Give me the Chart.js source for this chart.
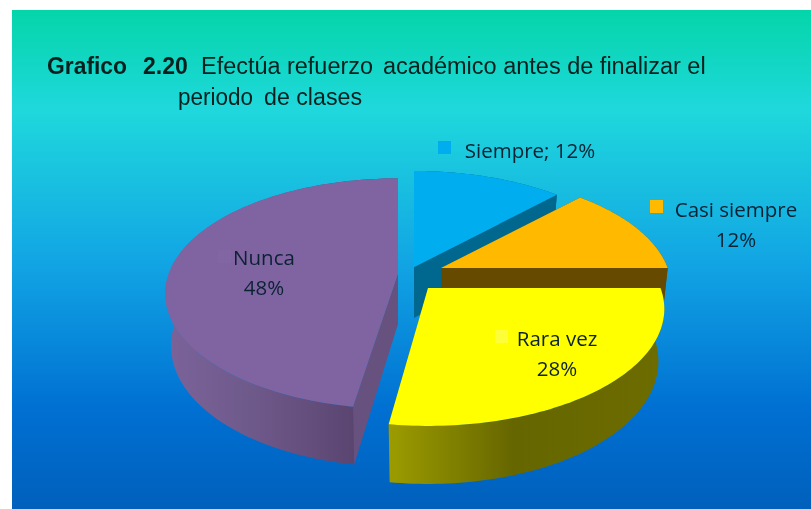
<!DOCTYPE html>
<html><head><meta charset="utf-8">
<style>html,body{margin:0;padding:0;background:#fff}#w{width:811px;height:509px}canvas{filter:blur(0.5px)}</style>
<script src="https://cdn.jsdelivr.net/npm/chart.js@4"></script>
</head><body><div id="w"><canvas id="c" width="811" height="509"></canvas></div>
<script>
const categories = ["Siempre", "Casi siempre", "Rara vez", "Nunca"];
const percentValues = [12, 12, 28, 48];
const sliceColors = ["#00aeef", "#ffba00", "#ffff00", "#8064a2"];
const cutColors = ["#00688f", "#664a00", "#666600", "#67527f"];
const wallStops = [
  [[0, "#00688f"], [1, "#00688f"]],
  [[0, "#664a00"], [1, "#664a00"]],
  [[0, "#9c9c00"], [0.45, "#666600"], [1, "#6c6c00"]],
  [[0, "#7b6399"], [0.35, "#6f5a8c"], [1, "#523d66"]]
];
// Per-slice explosion relative to the pie centre, radius factor, and edge nudges (degrees)
const explodeX = [8.5, 35.5, 22.5, -7.5];
const explodeY = [12.5, 13.5, 33.5, 18.5];
const radiusFactor = [1, 0.975, 1, 0.985];
const startNudge = [0, 0.7, 3.6, 2.1];
const endNudge = [0.7, 3.6, 0.8, 0];
const drawOrder = [0, 1, 3, 2];
const labelPos = [[530,158],[736,217],[557,346],[264,265]];
const keyPos = [[438,141],[650,200],[495,330],[218,250]];
const keyColors = ["#00aeef","#ffba00","#fdfd3a","#8266a4"];
const labelLineGap = 30;

const PERSP = 0.179, TILT = 113 / 232, DEG = Math.PI / 180;
function project(a, R, ax, ay) {
  const th = a + Math.PI / 2, x = Math.sin(th), z = -Math.cos(th);
  const s = 1 / (1 - PERSP * z);
  return { X: ax + R * x * s, Y: ay + R * TILT * z * s, z };
}
function depth(z){ return 51 + 7 * z; }
function low(p, ax){ return { X: ax + (p.X - ax) * 0.975, Y: p.Y + depth(p.z) }; }

const pie3d = {
  id: "pie3d",
  beforeDraw(chart) {
    const { ctx } = chart;
    ctx.save();
    const g = ctx.createLinearGradient(0, 10, 0, 509);
    g.addColorStop(0, "#04d5a9");
    g.addColorStop(0.2, "#1fd8dc");
    g.addColorStop(0.5, "#12a6e4");
    g.addColorStop(0.8, "#0070d2");
    g.addColorStop(1, "#0060bc");
    ctx.fillStyle = g;
    ctx.fillRect(12, 10, 799, 499);
    ctx.restore();
  },
  beforeDatasetDraw(chart, args) {
    const { ctx } = chart, arcs = args.meta.data;
    ctx.save();
    drawOrder.forEach(i => {
      const a = arcs[i], R = a.outerRadius * radiusFactor[i];
      const ax = a.x + explodeX[i], ay = a.y + explodeY[i];
      const a0 = a.startAngle + startNudge[i] * DEG, a1 = a.endAngle + endNudge[i] * DEG;
      const n = 80, rim = [];
      for (let k = 0; k <= n; k++) rim.push(project(a0 + (a1 - a0) * k / n, R, ax, ay));
      const apex = { X: ax, Y: ay, z: 0 }, apexLow = low(apex, ax);
      // cut faces
      ctx.fillStyle = cutColors[i];
      [rim[0], rim[n]].forEach(p => {
        const q = low(p, ax);
        ctx.beginPath();
        ctx.moveTo(apex.X, apex.Y); ctx.lineTo(p.X, p.Y); ctx.lineTo(q.X, q.Y); ctx.lineTo(apexLow.X, apexLow.Y);
        ctx.closePath(); ctx.fill();
      });
      // outer wall
      let minX = Infinity, maxX = -Infinity;
      rim.forEach(p => { minX = Math.min(minX, p.X); maxX = Math.max(maxX, p.X); });
      const g = ctx.createLinearGradient(minX, 0, maxX, 0);
      wallStops[i].forEach(s => g.addColorStop(s[0], s[1]));
      ctx.fillStyle = g;
      ctx.beginPath();
      rim.forEach((p, k) => k ? ctx.lineTo(p.X, p.Y) : ctx.moveTo(p.X, p.Y));
      for (let k = n; k >= 0; k--) { const q = low(rim[k], ax); ctx.lineTo(q.X, q.Y); }
      ctx.closePath(); ctx.fill();
      // top surface
      ctx.fillStyle = a.options.backgroundColor;
      ctx.beginPath();
      ctx.moveTo(apex.X, apex.Y);
      rim.forEach(p => ctx.lineTo(p.X, p.Y));
      ctx.closePath(); ctx.fill();
    });
    ctx.restore();
    return false;
  },
  afterDraw(chart) {
    const { ctx } = chart;
    ctx.save();
    ctx.textBaseline = "alphabetic";
    ctx.textAlign = "left";
    ctx.fillStyle = "#06201f";
    const seg = (t, x, y, w, f) => { ctx.font = f; ctx.fillText(t, x, y, w); };
    const B = "bold 23px 'Liberation Sans'", N = "23.5px 'Liberation Sans'";
    seg("Grafico", 47, 74, 80, B);
    seg("2.20", 143, 74, 45, B);
    seg("Efectúa refuerzo", 201, 74, 172, N);
    seg("académico antes de finalizar el", 383, 74, 323, N);
    seg("periodo", 178, 105, 75, N);
    seg("de clases", 264, 105, 98, N);
    // data labels with keys
    ctx.font = "20.5px 'Open Sans'";
    ctx.textAlign = "center";
    categories.forEach((c, i) => {
      const [x, y] = labelPos[i], [kx, ky] = keyPos[i];
      ctx.fillStyle = keyColors[i];
      ctx.fillRect(kx, ky, 13, 13);
      ctx.fillStyle = "#0b2233";
      if (i === 0) {
        ctx.fillText(c + "; " + percentValues[i] + "%", x, y);
      } else {
        ctx.fillText(c, x, y);
        ctx.fillText(percentValues[i] + "%", x, y + labelLineGap);
      }
    });
    ctx.restore();
  }
};

new Chart(document.getElementById("c"), {
  type: "pie",
  data: { labels: categories, datasets: [{ data: percentValues, backgroundColor: sliceColors, borderWidth: 0 }] },
  options: {
    responsive: false, animation: false,
    layout: { padding: { top: 22, bottom: 22, left: 0, right: 0 } },
    plugins: { legend: { display: false }, tooltip: { enabled: false }, title: { display: false } }
  },
  plugins: [pie3d]
});
</script></body></html>
